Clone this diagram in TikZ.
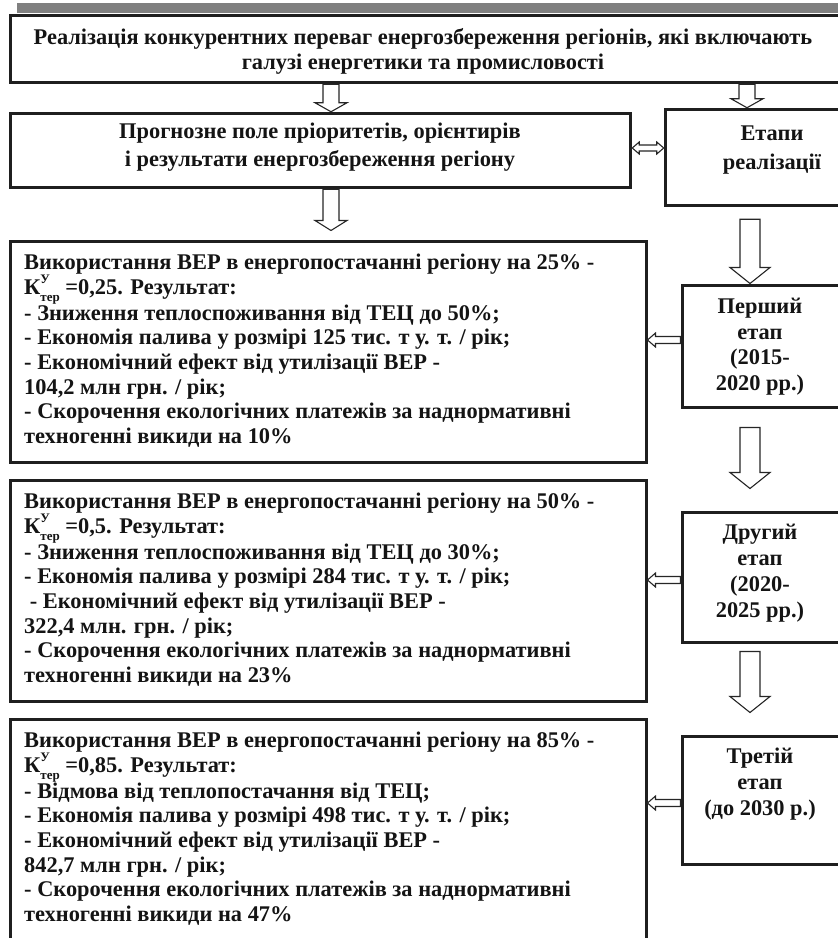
\documentclass[tikz,border=0pt]{standalone}
\usepackage{fontspec}
\setmainfont{Liberation Serif}
\usetikzlibrary{calc}
\newcommand\Kut{К\rlap{\raisebox{0.5em}{\fontsize{13}{13}\selectfont У}}\raisebox{-0.3em}{\fontsize{13}{13}\selectfont тер}}
\newcommand\DownArr[5]{%
\draw[arr] let \p1=#1, \p2=#2 in (\x1-#3,\y1) -- (\x1-#3,\y2+#5) -- (\x1-#4,\y2+#5) -- (\x1,\y2) -- (\x1+#4,\y2+#5) -- (\x1+#3,\y2+#5) -- (\x1+#3,\y1) -- cycle;}
\newcommand\LeftArr[5]{%
\draw[arr] let \p1=#1, \p2=#2 in (\x1,\y1-#3) -- (\x2+#5,\y1-#3) -- (\x2+#5,\y1-#4) -- (\x2,\y1) -- (\x2+#5,\y1+#4) -- (\x2+#5,\y1+#3) -- (\x1,\y1+#3) -- cycle;}
\tikzset{
  boxA/.style={draw=black!88, line width=3.5pt, inner sep=0pt, anchor=north west},
  boxB/.style={draw=black!88, line width=3pt, inner sep=0pt, anchor=north west},
  arr/.style={draw=black!85, line width=1.1pt, fill=white, line join=miter},
  txt/.style={inner sep=0pt, text=black!92, font=\bfseries\fontsize{22.4}{24.6}\selectfont},
  ltxt/.style={txt, align=left, anchor=north west},
  ctxt/.style={txt, align=center},
}
\begin{document}
\begin{tikzpicture}[x=1pt,y=-1pt]
\useasboundingbox (0,0) rectangle (838,938);
\clip (0,0) rectangle (838,938);
\fill[black!50] (17,3) rectangle (838,13);
% boxes
\node[boxA, minimum width=834, minimum height=67] (top) at (8.75,13.75) {};
\node[boxA, minimum width=620, minimum height=74] (prog) at (8.75,111.75) {};
\node[boxA, minimum width=180, minimum height=96] (etapy) at (663.75,107.75) {};
\node[boxB, minimum width=636, minimum height=221] (b1) at (8.5,239.5) {};
\node[boxB, minimum width=636, minimum height=221] (b2) at (8.5,478.5) {};
\node[boxB, minimum width=636, minimum height=240] (b3) at (8.5,717.5) {};
\node[boxB, minimum width=170, minimum height=122] (s1) at (680.5,283.5) {};
\node[boxB, minimum width=170, minimum height=130] (s2) at (680.5,510.5) {};
\node[boxB, minimum width=170, minimum height=128] (s3) at (680.5,734.5) {};
% texts
\node[ctxt, font=\bfseries\fontsize{22.4}{25}\selectfont] (toptxt) at (423,51) {Реалізація конкурентних переваг енергозбереження регіонів, які включають\\галузі енергетики та промисловості};
\node[ctxt, font=\bfseries\fontsize{22.4}{28}\selectfont] (progtxt) at (320,147) {Прогнозне поле пріоритетів, орієнтирів\\і результати енергозбереження регіону};
\node[ctxt, font=\bfseries\fontsize{22.4}{29}\selectfont] (etapytxt) at (772,150) {Етапи\\реалізації};
\node[ctxt, anchor=north, font=\bfseries\fontsize{22.4}{25.5}\selectfont] (s1txt) at (760,298) {Перший\\етап\\(2015-\\2020 рр.)};
\node[ctxt, anchor=north, font=\bfseries\fontsize{22.4}{25.8}\selectfont] (s2txt) at (760,524) {Другий\\етап\\(2020-\\2025 рр.)};
\node[ctxt, anchor=north, font=\bfseries\fontsize{22.4}{26}\selectfont] (s3txt) at (760,748) {Третій\\етап\\(до 2030 р.)};
\node[ltxt] (b1txt) at (24,254) {Використання ВЕР в енергопостачанні регіону на 25\% -\\
\Kut{} =0,25. Результат:\\
- Зниження теплоспоживання від ТЕЦ до 50\%;\\
- Економія палива у розмірі 125 тис. т у. т. / рік;\\
- Економічний ефект від утилізації ВЕР -\\
104,2 млн грн. / рік;\\
- Скорочення екологічних платежів за наднормативні\\
техногенні викиди на 10\%};
\node[ltxt] (b2txt) at (24,493) {Використання ВЕР в енергопостачанні регіону на 50\% -\\
\Kut{} =0,5. Результат:\\
- Зниження теплоспоживання від ТЕЦ до 30\%;\\
- Економія палива у розмірі 284 тис. т у. т. / рік;\\
\ - Економічний ефект від утилізації ВЕР -\\
322,4 млн. грн. / рік;\\
- Скорочення екологічних платежів за наднормативні\\
техногенні викиди на 23\%};
\node[ltxt] (b3txt) at (24,732) {Використання ВЕР в енергопостачанні регіону на 85\% -\\
\Kut{} =0,85. Результат:\\
- Відмова від теплопостачання від ТЕЦ;\\
- Економія палива у розмірі 498 тис. т у. т. / рік;\\
- Економічний ефект від утилізації ВЕР -\\
842,7 млн грн. / рік;\\
- Скорочення екологічних платежів за наднормативні\\
техногенні викиди на 47\%};
% arrows
\DownArr{(331,0 |- top.south)}{(331,0 |- prog.north)}{8pt}{16pt}{9pt}
\DownArr{(747,0 |- top.south)}{(747,0 |- etapy.north)}{8pt}{16pt}{9pt}
\DownArr{(331,0 |- prog.south)}{($(331,0 |- b1.north)+(0,-9)$)}{8pt}{16pt}{10pt}
\DownArr{($(750,0 |- etapy.south)+(0,12)$)}{(750,0 |- s1.north)}{10pt}{20pt}{16pt}
\DownArr{($(750,0 |- s1.south)+(0,19)$)}{($(750,0 |- b2.north)+(0,10)$)}{10pt}{20pt}{16pt}
\DownArr{($(750,0 |- s2.south)+(0,8)$)}{($(750,0 |- b3.north)+(0,-5)$)}{10pt}{20pt}{16pt}
\LeftArr{(s1.west |- 0,340)}{(b1.east |- 0,340)}{3.5pt}{7pt}{8pt}
\LeftArr{(s2.west |- 0,580)}{(b2.east |- 0,580)}{3.5pt}{7pt}{8pt}
\LeftArr{(s3.west |- 0,803)}{(b3.east |- 0,803)}{3.5pt}{7pt}{8pt}
% double arrow
\draw[arr] let \p1=(prog.east |- 0,148), \p2=(etapy.west |- 0,148) in
  (\x1,\y1) -- (\x1+7pt,\y1+6pt) -- (\x1+7pt,\y1+3pt) -- (\x2-7pt,\y1+3pt) -- (\x2-7pt,\y1+6pt) -- (\x2,\y1)
  -- (\x2-7pt,\y1-6pt) -- (\x2-7pt,\y1-3pt) -- (\x1+7pt,\y1-3pt) -- (\x1+7pt,\y1-6pt) -- cycle;
\end{tikzpicture}
\end{document}
